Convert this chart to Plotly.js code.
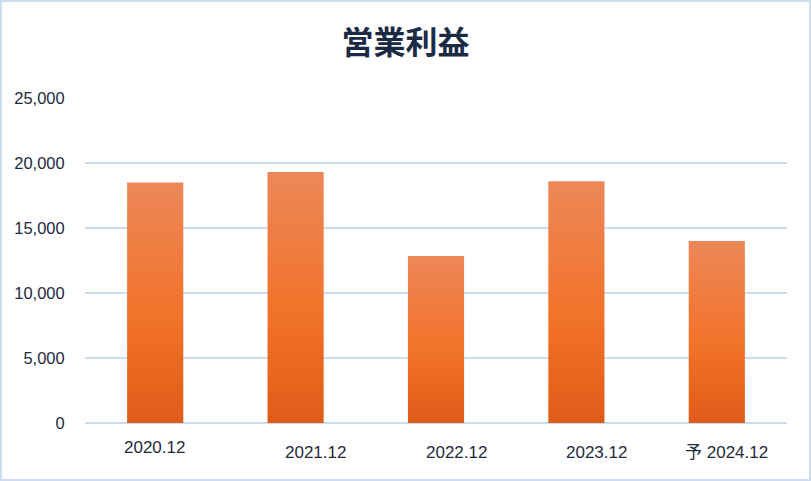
<!DOCTYPE html>
<html>
<head>
<meta charset="utf-8">
<script src="https://cdn.plot.ly/plotly-3.0.1.min.js"></script>
<style>
html,body{margin:0;padding:0;background:#fff;}
#chart{width:811px;height:481px;box-sizing:border-box;border:2px solid #cddcef;}
</style>
</head>
<body>
<div id="chart"></div>
<script>
const categories = ["2020.12", "2021.12", "2022.12", "2023.12", "予 2024.12"];
const operatingProfit = [18500, 19300, 12850, 18600, 14000];
const yTickValues = [0, 5000, 10000, 15000, 20000, 25000];
const chartTitle = "営業利益";

// label placement styling (offsets as in the reference)
const labelXShift = [-1, 20, 20, 20, 10];
const labelYShift = [-24, -29, -29, -29, -29];

const annotations = categories.map((c, i) => ({
  x: i, y: 0, xref: 'x', yref: 'y',
  text: c, showarrow: false,
  xanchor: 'center', yanchor: 'middle',
  xshift: labelXShift[i], yshift: labelYShift[i],
  font: {family: '"Liberation Sans", Arial, "Noto Sans CJK JP", sans-serif', size: 17, color: '#1f2a3c'}
}));

const trace = {
  type: 'bar',
  x: categories,
  y: operatingProfit,
  marker: {color: '#f07430', line: {width: 0}},
  hoverinfo: 'x+y'
};

const layout = {
  width: 807, height: 477,
  margin: {l: 83, r: 22, t: 96, b: 56},
  paper_bgcolor: '#ffffff',
  plot_bgcolor: '#ffffff',
  bargap: 0.6,
  showlegend: false,
  title: {
    text: '<b>' + chartTitle + '</b>',
    x: 0.5, xanchor: 'center', xref: 'container',
    y: 1 - 41 / 477, yanchor: 'middle', yref: 'container',
    font: {family: '"Noto Sans CJK JP", sans-serif', size: 32, color: '#1b2b45'}
  },
  xaxis: {
    type: 'category',
    categoryorder: 'array',
    categoryarray: categories,
    range: [-0.5, categories.length - 0.5],
    showticklabels: false,
    showgrid: false,
    showline: false,
    ticks: ''
  },
  yaxis: {
    range: [0, 25000],
    tickvals: yTickValues,
    ticktext: yTickValues.map(v => v.toLocaleString('en-US')),
    showgrid: true,
    gridcolor: '#c9dcf0',
    gridwidth: 1.6,
    zeroline: true,
    zerolinecolor: '#c9dcf0',
    zerolinewidth: 2,
    showline: false,
    ticks: 'outside',
    ticklen: 16,
    tickcolor: 'rgba(0,0,0,0)',
    tickfont: {family: '"Liberation Sans", Arial, sans-serif', size: 16.5, color: '#1f2a3c'}
  },
  annotations: annotations
};

Plotly.newPlot('chart', [trace], layout, {displayModeBar: false, staticPlot: true}).then(gd => {
  const svg = gd.querySelector('svg.main-svg');
  const ns = 'http://www.w3.org/2000/svg';
  let defs = svg.querySelector('defs');
  if (!defs) { defs = document.createElementNS(ns, 'defs'); svg.insertBefore(defs, svg.firstChild); }
  const grad = document.createElementNS(ns, 'linearGradient');
  grad.setAttribute('id', 'barGrad');
  grad.setAttribute('x1', '0'); grad.setAttribute('y1', '0');
  grad.setAttribute('x2', '0'); grad.setAttribute('y2', '1');
  [['0%', '#ed8759'], ['55%', '#f2732a'], ['100%', '#df5c18']].forEach(([o, c]) => {
    const s = document.createElementNS(ns, 'stop');
    s.setAttribute('offset', o); s.setAttribute('stop-color', c);
    grad.appendChild(s);
  });
  defs.appendChild(grad);
  gd.querySelectorAll('.trace.bars .point path').forEach(p => { p.style.fill = 'url(#barGrad)'; });
});
</script>
</body>
</html>
